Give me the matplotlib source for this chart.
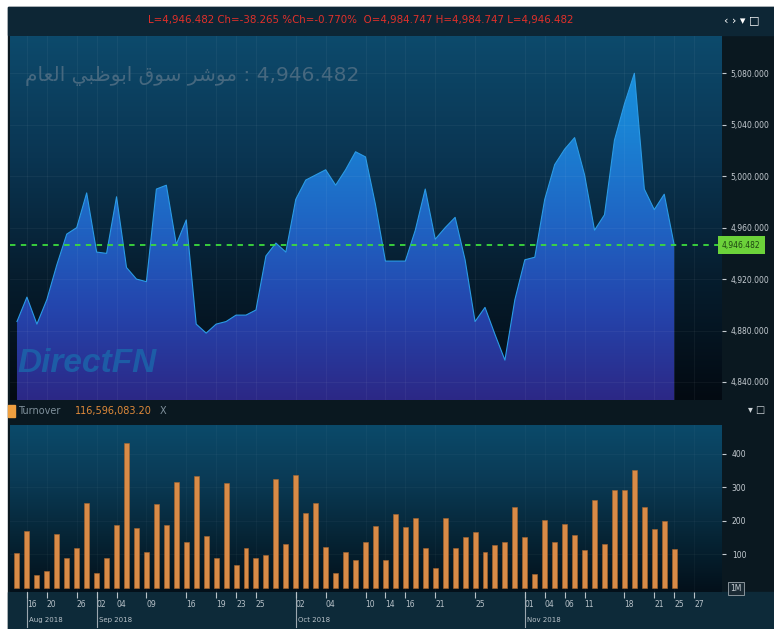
import numpy as np
import matplotlib
matplotlib.use('Agg')
import matplotlib.pyplot as plt
import matplotlib.transforms as mtransforms
from matplotlib.colors import LinearSegmentedColormap
from matplotlib.patches import Rectangle, PathPatch

W, H = 774, 629

# index close, one value per trading day
close = [4887, 4906, 4885, 4904, 4931, 4955, 4960, 4987, 4941, 4940,
         4984, 4929, 4920, 4918, 4990, 4993, 4947, 4966, 4885, 4878,
         4885, 4887, 4892, 4892, 4896, 4938, 4948, 4941, 4982, 4997,
         5001, 5005, 4993, 5005, 5019, 5015, 4978, 4934, 4934, 4934,
         4958, 4990, 4951, 4960, 4968, 4935, 4887, 4898, 4877, 4857,
         4904, 4935, 4937, 4982, 5009, 5021, 5030, 5001, 4958, 4970,
         5028, 5056, 5080, 4990, 4974, 4986, 4946.482]

# turnover in millions
turnover = [104, 170, 39, 51, 161, 90, 119, 254, 45, 90, 188, 433, 179, 107,
            250, 188, 316, 137, 334, 155, 90, 313, 69, 119, 90, 98, 325, 131,
            337, 224, 254, 122, 45, 107, 84, 137, 185, 84, 221, 182, 209, 119,
            60, 209, 119, 152, 167, 107, 128, 137, 242, 152, 42, 203, 137, 191,
            158, 113, 263, 131, 293, 293, 352, 242, 176, 200, 117]

last = 4946.482
price_ticks = [4840, 4880, 4920, 4960, 5000, 5040, 5080]
vol_ticks = [100, 200, 300, 400]

day_pos = [1, 3, 6, 8, 10, 13, 17, 20, 22, 24, 28, 31, 35, 37, 39, 42, 46,
           51, 53, 55, 57, 61, 64, 66, 68]
day_lbl = ['16', '20', '26', '02', '04', '09', '16', '19', '23', '25', '02',
           '04', '10', '14', '16', '21', '25', '01', '04', '06', '11', '18',
           '21', '25', '27']
month_pos = [1, 8, 28, 51]
month_lbl = ['Aug 2018', 'Sep 2018', 'Oct 2018', 'Nov 2018']

header = 'L=4,946.482 Ch=-38.265 %Ch=-0.770%  O=4,984.747 H=4,984.747 L=4,946.482'

# arabic title in presentation forms (logical order per word)
words = ['\uFEE3\uFEEE\uFEB7\uFEAE',               # موشر
         '\uFEB3\uFEEE\uFED5',                     # سوق
         '\uFE8D\uFE91\uFEEE\uFEC7\uFE92\uFEF2',   # ابوظبي
         '\uFE8D\uFEDF\uFECC\uFE8E\uFEE1']         # العام
title = ' '.join(w[::-1] for w in reversed(words)) + ' : 4,946.482'


def fx(px):
    return px / W


def fy(py):
    return 1 - py / H


fig = plt.figure(figsize=(W / 100, H / 100), dpi=100, facecolor='white')

# panel frame and bands
fig.add_artist(Rectangle((fx(8), 0), 1 - fx(8), fy(7), transform=fig.transFigure,
                         color='#0a1820', zorder=0))
fig.add_artist(Rectangle((fx(8), fy(35)), 1 - fx(8), fy(7) - fy(35),
                         transform=fig.transFigure, color='#0d2635', zorder=0))
fig.add_artist(Rectangle((fx(8), 0), 1 - fx(8), fy(592), transform=fig.transFigure,
                         color='#0d2a39', zorder=0))

xlo, xhi = -0.7, 70.8
idx = np.arange(len(close))
grad = np.linspace(0, 1, 256).reshape(-1, 1)

# ---------------- price panel
ax1 = fig.add_axes([fx(10), fy(400), fx(722) - fx(10), fy(36) - fy(400)])
ylo, yhi = 4826, 5109
bg = LinearSegmentedColormap.from_list('bg', ['#030a12', '#061d2e', '#0a3552', '#0d4a6c'])
ax1.imshow(grad, extent=[xlo, xhi, ylo, yhi], origin='lower', cmap=bg,
           aspect='auto', zorder=0)

area = LinearSegmentedColormap.from_list('area', ['#2c2886', '#2445ad', '#1f66c4',
                                                  '#1a84d5', '#1896e0'])
poly = ax1.fill_between(idx, close, ylo, facecolor='none', edgecolor='none')
clip = PathPatch(poly.get_paths()[0], transform=ax1.transData,
                 facecolor='none', edgecolor='none')
ax1.add_patch(clip)
im = ax1.imshow(grad, extent=[xlo, xhi, ylo, yhi], origin='lower', cmap=area,
                aspect='auto', zorder=2)
im.set_clip_path(clip)
ax1.plot(idx, close, color='#2a9be6', lw=0.8, zorder=2.2)

ax1.axhline(last, color='#3ddc3d', lw=1.3, ls=(0, (3, 3)), zorder=3)

ax1.set_xlim(xlo, xhi)
ax1.set_ylim(ylo, yhi)
ax1.set_xticks(day_pos)
ax1.yaxis.tick_right()
ax1.set_yticks(price_ticks)
ax1.set_yticklabels([f'{v:,.3f}' for v in price_ticks])
ax1.tick_params(axis='x', length=0, labelbottom=False)
ax1.tick_params(axis='y', colors='#c5ccd2', labelsize=5.5, length=3, pad=3)
ax1.set_axisbelow(False)
ax1.grid(color='white', alpha=0.05, lw=0.6)
for s in ax1.spines.values():
    s.set_visible(False)

trans1 = mtransforms.blended_transform_factory(ax1.transAxes, ax1.transData)
ax1.text(1.0, last, f'{last:,.3f}', transform=trans1, ha='left', va='center',
         fontsize=5.5, color='#1d4512', clip_on=False, zorder=5,
         bbox=dict(boxstyle='square,pad=0.55', fc='#6cd23a', ec='none'))

ax1.text(0.021, 0.89, title, transform=ax1.transAxes, fontsize=14.5,
         color='#46687f', family='DejaVu Sans', ha='left', va='center', zorder=4)
ax1.text(0.011, 0.10, 'DirectFN', transform=ax1.transAxes, fontsize=24,
         style='italic', weight='bold', color='#1c64aa', alpha=0.85,
         family=['Liberation Sans', 'DejaVu Sans'], ha='left', va='center', zorder=4)

# ---------------- turnover panel
ax2 = fig.add_axes([fx(10), fy(592), fx(722) - fx(10), fy(425) - fy(592)])
vlo, vhi = -12, 486
bg2 = LinearSegmentedColormap.from_list('bg2', ['#03101a', '#062536', '#0a3a55', '#0b4a6a'])
ax2.imshow(grad, extent=[xlo, xhi, vlo, vhi], origin='lower', cmap=bg2,
           aspect='auto', zorder=0)
ax2.bar(idx, turnover, width=0.5, color='#d98b47', edgecolor='#a8642c', lw=0.4, zorder=3)
ax2.set_xlim(xlo, xhi)
ax2.set_ylim(vlo, vhi)
ax2.yaxis.tick_right()
ax2.set_yticks(vol_ticks)
ax2.set_yticklabels([str(v) for v in vol_ticks])
ax2.tick_params(axis='y', colors='#c5ccd2', labelsize=5.5, length=3, pad=4)
ax2.set_xticks(day_pos)
ax2.set_xticklabels(day_lbl, ha='left')
ax2.tick_params(axis='x', colors='#b8c2c9', labelsize=5.5, length=4, pad=2)
ax2.set_axisbelow(False)
ax2.grid(color='white', alpha=0.04, lw=0.6)
for s in ax2.spines.values():
    s.set_visible(False)

ax2.text(1.012, 0.02, '1M', transform=ax2.transAxes, fontsize=5.5, color='#c5ccd2',
         ha='left', va='center', clip_on=False,
         bbox=dict(boxstyle='square,pad=0.3', fc='#1a2a34', ec='#9aa4aa', lw=0.6))

trans2 = mtransforms.blended_transform_factory(ax2.transData, ax2.transAxes)
for p, lbl in zip(month_pos, month_lbl):
    ax2.plot([p, p], [0, -0.21], transform=trans2, clip_on=False,
             color='#9aa6ae', lw=0.8)
    ax2.text(p + 0.25, -0.17, lbl, transform=trans2, fontsize=5, color='#b8c2c9',
             ha='left', va='center')

# ---------------- header texts and icons
fig.text(fx(361), fy(20), header, fontsize=7.4, color='#e0302a', ha='center', va='center')
fig.text(fx(742), fy(20), '\u2039 \u203a \u25be \u25a1', fontsize=8, color='white',
         ha='center', va='center')
fig.text(fx(757), fy(410), '\u25be \u25a1', fontsize=7, color='#d0d6da',
         ha='center', va='center')

fig.add_artist(Rectangle((fx(8), fy(417)), fx(7), fy(405) - fy(417),
                         transform=fig.transFigure, color='#f0a040'))
fig.text(fx(18), fy(411), 'Turnover', fontsize=7, color='#7f909b', ha='left', va='center')
fig.text(fx(75), fy(411), '116,596,083.20', fontsize=7, color='#e08a3a',
         ha='left', va='center')
fig.text(fx(160), fy(411), 'X', fontsize=7, color='#7f909b', ha='left', va='center')

fig.savefig('out.png', dpi=100, facecolor=fig.get_facecolor())
